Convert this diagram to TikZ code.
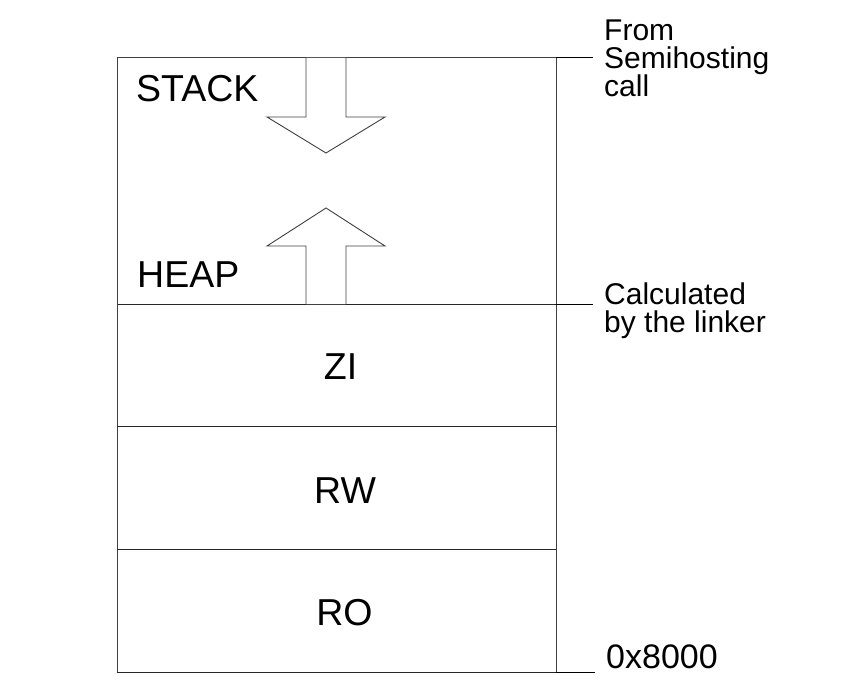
\documentclass[tikz,border=0pt]{standalone}
\usepackage{fontspec}
\setmainfont{Liberation Sans}
\begin{document}
\begin{tikzpicture}[x=1pt,y=-1pt,
  frame/.style={draw=black!75,line width=1pt},
  divider/.style={draw=black!85,line width=1pt},
  arrowshape/.style={draw=black!75,line width=0.9pt,fill=white,line join=miter},
  tick/.style={draw=black,line width=1pt},
  biglabel/.style={font=\fontsize{37.5}{37.5}\selectfont,inner sep=0pt},
  sidelabel/.style={font=\fontsize{30}{28}\selectfont,inner sep=0pt,align=left},
  addrlabel/.style={font=\fontsize{34}{34}\selectfont,inner sep=0pt}]
\useasboundingbox (0,0) rectangle (866,690);
% memory regions
\path[frame] (117,58) rectangle (556,304);
\path[divider] (117,304) -- (556,304);
\path[frame] (117,304) -- (117,672) (556,304) -- (556,672);
\path[divider] (117,426) -- (556,426);
\path[divider] (117,549) -- (556,549);
\path[divider] (117,672) -- (556,672);
% arrows
\path[arrowshape] (306,58) -- (306,117) -- (267,117) -- (326,153) -- (385,117) -- (346,117) -- (346,58);
\path[arrowshape] (306,304) -- (306,246) -- (267,246) -- (326,208) -- (385,246) -- (346,246) -- (346,304);
% labels
\node[biglabel,anchor=base west] (stack) at (136,102) {STACK};
\node[biglabel,anchor=base west] (heap) at (137,287) {HEAP};
\node[biglabel,anchor=base] (zi) at (340.5,379) {ZI};
\node[biglabel,anchor=base] (rw) at (345,503) {RW};
\node[biglabel,anchor=base] (ro) at (344.5,625) {RO};
% ticks and side labels
\coordinate (t1) at (556,58);
\coordinate (t2) at (556,304);
\coordinate (t3) at (556,672);
\path[tick] (t1) -- ++(37,0);
\path[tick] (t2) -- ++(37,0);
\path[tick] (t3) -- ++(39,0);
\node[sidelabel,anchor=north west] (semi) at (604,20) {From\\Semihosting\\call};
\node[sidelabel,anchor=north west] (calc) at (604,283) {Calculated\\by the linker};
\node[addrlabel,anchor=base west] (addr) at (606,668) {0x8000};
\end{tikzpicture}
\end{document}
